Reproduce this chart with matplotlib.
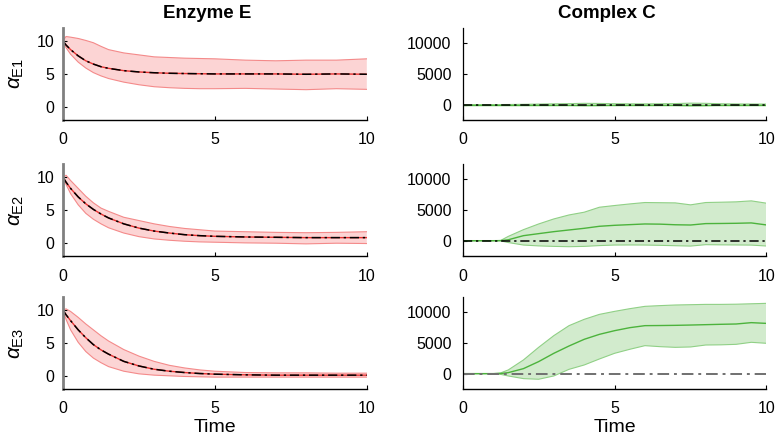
import matplotlib
matplotlib.use("Agg")
import matplotlib.pyplot as plt

plt.rcParams["font.family"] = ["Liberation Sans", "DejaVu Sans"]
plt.rcParams["mathtext.fontset"] = "custom"
plt.rcParams["mathtext.rm"] = "Liberation Sans"
plt.rcParams["mathtext.it"] = "Liberation Sans:italic"
plt.rcParams["mathtext.sf"] = "Liberation Sans"

# time grids
t_E = [0, 0.1, 0.25, 0.5, 0.75, 1, 1.25, 1.5, 2, 2.5, 3, 3.5, 4, 4.5, 5, 6, 7, 8, 9, 10]
t_C = [0, 0.5, 1.0, 1.25, 1.5, 2, 2.5, 3, 3.5, 4, 4.5, 5, 5.5, 6, 6.5, 7, 7.5, 8, 8.5, 9, 9.5, 10]

# enzyme E, three cases: mean, upper and lower band
E1_mean = [10, 9.4, 8.7, 7.75, 7.0, 6.5, 6.1, 5.85, 5.5, 5.3, 5.18, 5.1, 5.06, 5.03, 5.0, 5.0, 5.0, 4.95, 5.0, 4.95]
E1_up = [10.1, 10.7, 10.6, 10.4, 10.1, 9.75, 9.2, 8.7, 8.2, 7.9, 7.6, 7.5, 7.4, 7.35, 7.3, 7.1, 7.0, 7.1, 7.1, 7.3]
E1_lo = [10, 9.0, 8.0, 6.8, 5.9, 5.2, 4.7, 4.3, 3.75, 3.35, 3.05, 2.9, 2.8, 2.75, 2.75, 2.8, 2.7, 2.6, 2.75, 2.65]

E2_mean = [10, 9.25, 8.3, 7.0, 5.95, 5.1, 4.4, 3.8, 2.9, 2.25, 1.8, 1.5, 1.25, 1.1, 1.0, 0.9, 0.85, 0.8, 0.8, 0.8]
E2_up = [10, 10.3, 9.5, 8.3, 7.1, 6.1, 5.3, 4.8, 3.9, 3.4, 2.9, 2.5, 2.2, 2.0, 1.8, 1.7, 1.6, 1.55, 1.6, 1.7]
E2_lo = [10, 8.9, 7.5, 5.8, 4.5, 3.6, 2.9, 2.3, 1.5, 0.95, 0.6, 0.4, 0.25, 0.15, 0.1, 0.0, -0.05, -0.15, -0.05, -0.1]

E3_mean = [10, 9.3, 8.4, 7.0, 5.8, 4.75, 3.95, 3.3, 2.2, 1.5, 1.0, 0.7, 0.5, 0.35, 0.25, 0.15, 0.1, 0.1, 0.1, 0.1]
E3_up = [10, 10.2, 9.8, 8.9, 7.9, 7.0, 6.1, 5.3, 4.0, 3.0, 2.2, 1.6, 1.2, 0.9, 0.7, 0.5, 0.45, 0.45, 0.4, 0.4]
E3_lo = [10, 8.6, 7.0, 5.1, 3.7, 2.7, 2.0, 1.4, 0.7, 0.3, 0.1, 0.0, -0.1, -0.15, -0.2, -0.2, -0.2, -0.2, -0.2, -0.2]

# complex C, three cases
C1_mean = [0] * 22
C1_up = [0, 0, 0, 0, 10, 40, 80, 120, 150, 200, 180, 140, 120, 110, 130, 160, 230, 200, 130, 100, 90, 80]
C1_lo = [0, 0, 0, 0, -10, -40, -70, -110, -140, -190, -170, -130, -110, -100, -120, -150, -220, -190, -120, -90, -80, -70]

C2_mean = [0, 0, 0, 10, 150, 820, 1150, 1475, 1750, 2020, 2350, 2510, 2620, 2730, 2700, 2600, 2560, 2790, 2810, 2840, 2900, 2570]
C2_up = [0, 0, 0, 40, 700, 1800, 2730, 3550, 4200, 4650, 5460, 5740, 6000, 6230, 6200, 6170, 5850, 6230, 6280, 6340, 6500, 6120]
C2_lo = [0, 0, 0, -30, -300, -710, -850, -930, -980, -930, -800, -710, -700, -710, -760, -820, -880, -650, -680, -700, -720, -870]

C3_mean = [0, 0, 0, 20, 160, 815, 1960, 3315, 4510, 5600, 6410, 7010, 7500, 7830, 7850, 7880, 7930, 7990, 8050, 8100, 8320, 8200]
C3_up = [0, 0, 0, 120, 600, 2230, 4290, 6200, 7830, 8860, 9670, 10160, 10600, 10980, 11100, 11200, 11250, 11300, 11300, 11330, 11400, 11470]
C3_lo = [0, 0, 0, -120, -380, -815, -920, -380, 700, 1410, 2390, 3315, 3970, 4565, 4400, 4290, 4350, 4670, 4700, 4780, 5110, 4950]

# deterministic reference for C stays at zero
C_det = [0] * 22

ylabels = [r"$\alpha_{\mathsf{E1}}$", r"$\alpha_{\mathsf{E2}}$", r"$\alpha_{\mathsf{E3}}$"]
E_sets = [(E1_mean, E1_up, E1_lo), (E2_mean, E2_up, E2_lo), (E3_mean, E3_up, E3_lo)]
C_sets = [(C1_mean, C1_up, C1_lo), (C2_mean, C2_up, C2_lo), (C3_mean, C3_up, C3_lo)]
det_colors = ["black", "black", "#707070"]

RED_FILL, RED_EDGE, RED_LINE = "#fcd4d4", "#f48a8a", "#e83030"
GRN_FILL, GRN_EDGE, GRN_LINE = "#d2ebcd", "#90d086", "#4cb33c"
DASHDOT = (0, (6, 2.5, 1.5, 2.5))

fig = plt.figure(figsize=(7.75, 4.44), dpi=100)
row_bottoms = [0.730, 0.4234, 0.124]
row_h = 0.207


def style_axes(ax, left_gray):
    for s in ["top", "right"]:
        ax.spines[s].set_visible(False)
    ax.spines["bottom"].set_linewidth(1.0)
    if left_gray:
        ax.spines["left"].set_color("#808080")
        ax.spines["left"].set_linewidth(2.0)
    else:
        ax.spines["left"].set_linewidth(0.9)
    ax.tick_params(direction="in", length=3, width=0.8, labelsize=11.5)
    ax.tick_params(axis="x", pad=9)
    ax.tick_params(axis="y", pad=6 if left_gray else 8)
    ax.set_xlim(0, 10)
    ax.set_xticks([0, 5, 10])


for i in range(3):
    b = row_bottoms[i]
    axE = fig.add_axes([0.0813, b, 0.392, row_h])
    mean, up, lo = E_sets[i]
    axE.fill_between(t_E, lo, up, facecolor=RED_FILL, edgecolor="none")
    axE.plot(t_E, up, color=RED_EDGE, lw=0.8)
    axE.plot(t_E, lo, color=RED_EDGE, lw=0.8)
    axE.plot(t_E, mean, color=RED_LINE, lw=1.0)
    axE.plot(t_E, mean, color="black", lw=1.1, linestyle=DASHDOT)
    axE.set_ylim(-2, 12)
    axE.set_yticks([0, 5, 10])
    style_axes(axE, True)
    axE.set_ylabel(ylabels[i], fontsize=15, labelpad=8)

    axC = fig.add_axes([0.597, b, 0.392, row_h])
    mean, up, lo = C_sets[i]
    axC.fill_between(t_C, lo, up, facecolor=GRN_FILL, edgecolor="none")
    axC.plot(t_C, up, color=GRN_EDGE, lw=0.8)
    axC.plot(t_C, lo, color=GRN_EDGE, lw=0.8)
    axC.plot(t_C, mean, color=GRN_LINE, lw=1.0)
    axC.plot(t_C, C_det, color=det_colors[i], lw=1.4 if i == 2 else 1.1,
             linestyle=DASHDOT)
    axC.set_ylim(-2500, 12500)
    axC.set_yticks([0, 5000, 10000])
    style_axes(axC, False)

    if i == 2:
        axE.set_xlabel("Time", fontsize=14, labelpad=2)
        axC.set_xlabel("Time", fontsize=14, labelpad=2)

fig.text(207 / 775, 1 - 14 / 444, "Enzyme E", fontsize=13.5, fontweight="bold",
         ha="center", va="center")
fig.text(607 / 775, 1 - 14 / 444, "Complex C", fontsize=13.5, fontweight="bold",
         ha="center", va="center")

fig.savefig("out.png", dpi=100)
